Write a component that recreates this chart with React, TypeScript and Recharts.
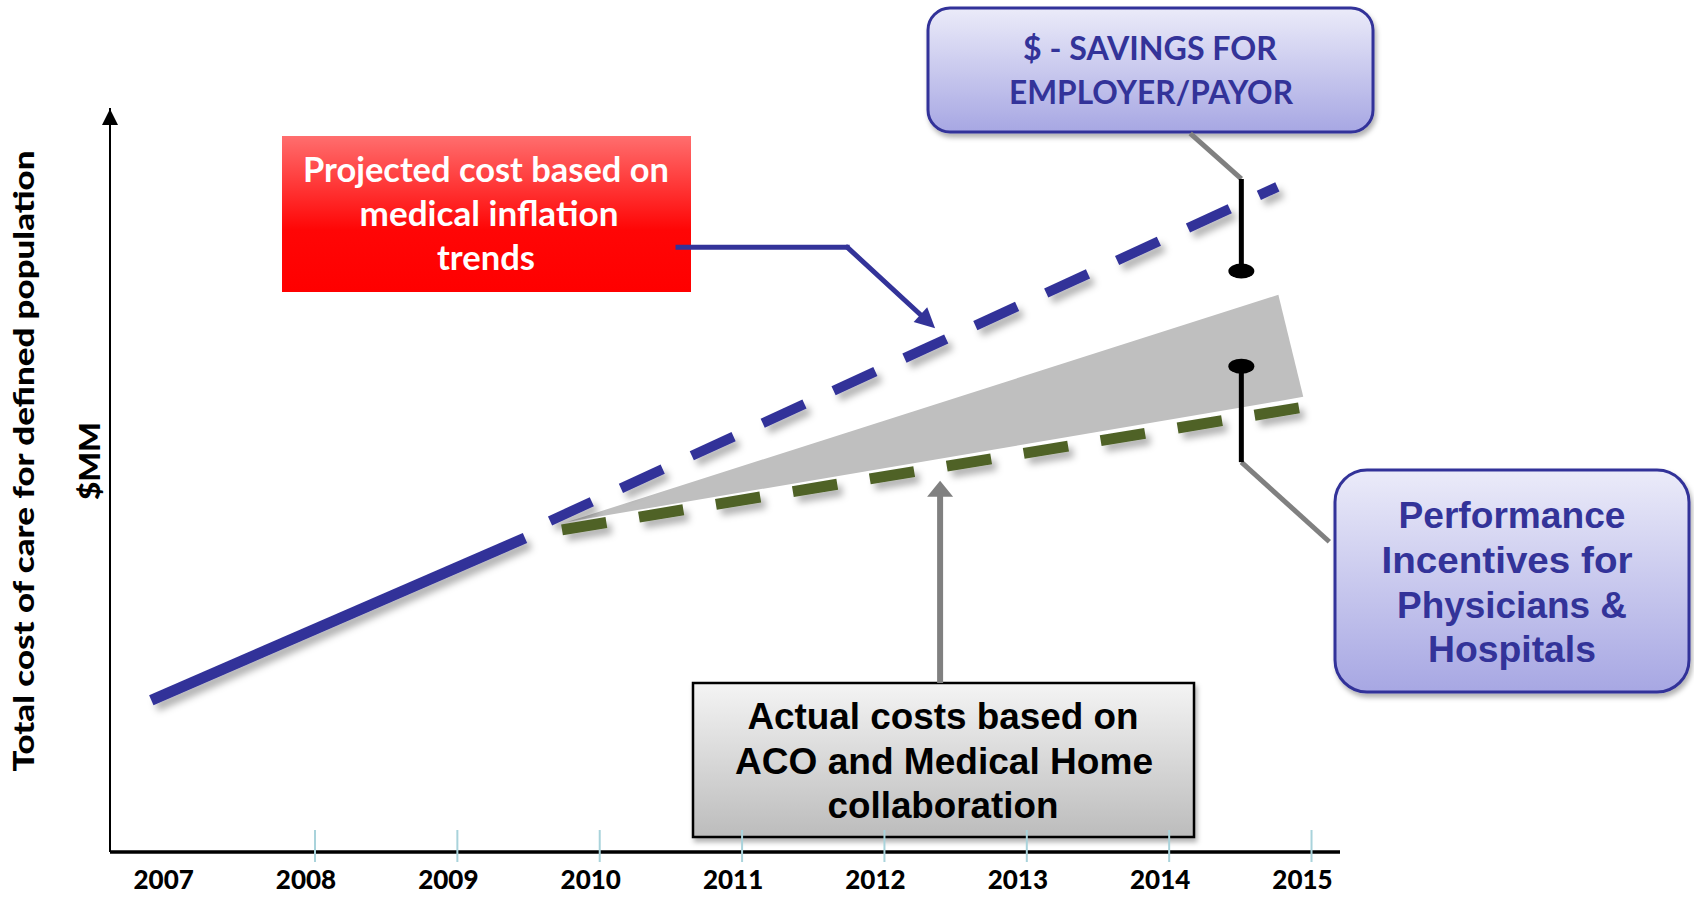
import React from 'react';
import { ComposedChart, Line, Area, XAxis, YAxis, ReferenceLine, ReferenceDot } from 'recharts';

// ---- data (years on x, cost in $MM index on y) ----
const years = [2007, 2008, 2009, 2010, 2011, 2012, 2013, 2014, 2015];
const historicYears = [2006.85, 2009.475];
const historicCost = [20.4, 42.2];
const projectedYears = [2009.651, 2014.76];
const projectedCost = [44.5, 89.4];
const actualYears = [2009.735, 2014.977];
const actualCost = [43.3, 59.9];
const gapYears = [2009.77, 2014.767, 2014.942];
const gapLow = [44.35, 60.6, 61.2];
const gapHigh = [44.35, 74.9, 61.2];
const bracketYear = 2014.507;
const savingsRange = [90.46, 78.1];
const incentiveRange = [65.3, 52.4];

// callout connector anchors (data units)
const projectedCallout = [
  { x: 2010.55, y: 81.3 },
  { x: 2011.738, y: 81.3 },
  { x: 2012.356, y: 70.4 },
];
const actualCallout = [
  { x: 2012.391, y: 22.7 },
  { x: 2012.391, y: 49.9 },
];
const savingsCallout = [
  { x: 2014.148, y: 96.6 },
  { x: bracketYear, y: savingsRange[0] },
];
const incentiveCallout = [
  { x: bracketYear, y: incentiveRange[1] },
  { x: 2015.125, y: 41.7 },
];

const X_DOMAIN: [number, number] = [2006.56, 2015.2];
const Y_DOMAIN: [number, number] = [0, 100];

const historicData = historicYears.map((x, i) => ({ x, v: historicCost[i] }));
const projectedData = projectedYears.map((x, i) => ({ x, v: projectedCost[i] }));
const actualData = actualYears.map((x, i) => ({ x, v: actualCost[i] }));
const gapData = gapYears.map((x, i) => ({ x, r: [gapLow[i], gapHigh[i]] }));

const BLUE = '#333399';
const GREEN = '#4F6228';
const CALIBRI = 'Lato, "Open Sans", sans-serif';
const ARIAL = '"Liberation Sans", Arial, sans-serif';

const XTick = (props: any) => {
  const { x, y, payload } = props;
  const v = payload.value;
  return (
    <g>
      {v !== 2007 && (
        <line x1={x} x2={x} y1={y - 22} y2={y + 10} stroke="#A9D3DB" strokeWidth={2} />
      )}
      <text
        x={x - 9}
        y={y + 37}
        textAnchor="middle"
        fontFamily={CALIBRI}
        fontWeight={900}
        fontSize={26}
        fill="#000"
      >
        {v}
      </text>
    </g>
  );
};

const segShape = (color: string, width: number, cap: any = 'butt') => (p: any) => (
  <line x1={p.x1} y1={p.y1} x2={p.x2} y2={p.y2} stroke={color} strokeWidth={width} strokeLinecap={cap} />
);

const arrowShape = (color: string, width: number, headLen: number, headW: number, cap: any = 'butt') => (p: any) => {
  const { x1, y1, x2, y2 } = p;
  const dx = x2 - x1;
  const dy = y2 - y1;
  const L = Math.hypot(dx, dy) || 1;
  const ux = dx / L;
  const uy = dy / L;
  const bx = x2 - ux * headLen;
  const by = y2 - uy * headLen;
  const px = -uy;
  const py = ux;
  return (
    <g>
      <line x1={x1} y1={y1} x2={bx + ux * 2} y2={by + uy * 2} stroke={color} strokeWidth={width} strokeLinecap={cap} />
      <polygon
        points={`${x2},${y2} ${bx + (px * headW) / 2},${by + (py * headW) / 2} ${bx - (px * headW) / 2},${by - (py * headW) / 2}`}
        fill={color}
      />
    </g>
  );
};

const ellipseShape = (p: any) => <ellipse cx={p.cx} cy={p.cy} rx={13} ry={7.5} fill="#000" />;
const yArrowShape = (p: any) => (
  <polygon points={`${p.cx},${p.cy + 1} ${p.cx - 8},${p.cy + 17} ${p.cx + 8},${p.cy + 17}`} fill="#000" />
);

const CText = (props: any) => {
  const { x, y, w, children, ...rest } = props;
  return (
    <text x={x} y={y} textAnchor="middle" textLength={w} lengthAdjust="spacingAndGlyphs" {...rest}>
      {children}
    </text>
  );
};

const Background = () => (
  <svg width={1694} height={897} style={{ position: 'absolute', left: 0, top: 0 }}>
    <defs>
      <linearGradient id="redGrad" x1="0" y1="0" x2="0" y2="1">
        <stop offset="0" stopColor="#FF6E6E" />
        <stop offset="0.6" stopColor="#FF0606" />
        <stop offset="1" stopColor="#FF0000" />
      </linearGradient>
      <linearGradient id="lavGrad" x1="0" y1="0" x2="0" y2="1">
        <stop offset="0" stopColor="#EBEBF9" />
        <stop offset="1" stopColor="#A7A7E3" />
      </linearGradient>
      <linearGradient id="grayGrad" x1="0" y1="0" x2="0" y2="1">
        <stop offset="0" stopColor="#F4F4F4" />
        <stop offset="1" stopColor="#BCBCBC" />
      </linearGradient>
      <filter id="boxShadow" x="-10%" y="-10%" width="130%" height="140%">
        <feDropShadow dx="2" dy="4" stdDeviation="2.5" floodColor="#000" floodOpacity="0.3" />
      </filter>
    </defs>

    {/* axis titles */}
    <g transform="translate(34,461) rotate(-90)">
      <CText x={0} y={0} w={621} fontFamily={CALIBRI} fontWeight={900} fontSize={28} fill="#000">
        Total cost of care for defined population
      </CText>
    </g>
    <g transform="translate(100,461) rotate(-90)">
      <CText x={0} y={0} w={78} fontFamily={CALIBRI} fontWeight={900} fontSize={28} fill="#000">
        $MM
      </CText>
    </g>

    {/* projected cost box */}
    <rect x={282} y={136} width={409} height={156} fill="url(#redGrad)" />
    <g fontFamily={CALIBRI} fontWeight={700} fontSize={34} fill="#FFFFFF">
      <CText x={486} y={182} w={366}>Projected cost based on</CText>
      <CText x={489} y={226} w={259}>medical inflation</CText>
      <CText x={486} y={270} w={98}>trends</CText>
    </g>

    {/* savings box */}
    <rect x={928} y={8} width={445} height={124} rx={22} ry={22} fill="url(#lavGrad)" stroke={BLUE} strokeWidth={3} filter="url(#boxShadow)" />
    <g fontFamily={CALIBRI} fontWeight={700} fontSize={32} fill={BLUE}>
      <CText x={1150} y={60} w={254}>$ - SAVINGS FOR</CText>
      <CText x={1151} y={104} w={284}>EMPLOYER/PAYOR</CText>
    </g>

    {/* performance incentives box */}
    <rect x={1335} y={470} width={354} height={222} rx={32} ry={32} fill="url(#lavGrad)" stroke={BLUE} strokeWidth={3} filter="url(#boxShadow)" />
    <g fontFamily={ARIAL} fontWeight={700} fontSize={36} fill={BLUE}>
      <CText x={1512} y={528} w={227}>Performance</CText>
      <CText x={1507} y={573} w={251}>Incentives for</CText>
      <CText x={1512} y={618} w={230}>Physicians &amp;</CText>
      <CText x={1512} y={662} w={168}>Hospitals</CText>
    </g>

    {/* actual costs box */}
    <rect x={693} y={683} width={501} height={154} fill="url(#grayGrad)" stroke="#000" strokeWidth={2.5} filter="url(#boxShadow)" />
    <g fontFamily={ARIAL} fontWeight={700} fontSize={36} fill="#000">
      <CText x={943} y={729} w={391}>Actual costs based on</CText>
      <CText x={944} y={774} w={418}>ACO and Medical Home</CText>
      <CText x={943} y={818} w={231}>collaboration</CText>
    </g>
  </svg>
);

export default function App() {
  return (
    <div style={{ position: 'absolute', left: 0, top: 0, width: 1694, height: 897, background: '#fff', overflow: 'hidden' }}>
      <Background />
      <div style={{ position: 'absolute', left: 0, top: 0 }}>
        <ComposedChart
          width={1694}
          height={897}
          margin={{ top: 108, right: 354, bottom: 15, left: 110 }}
        >
          <defs>
            <filter id="lineShadow" filterUnits="userSpaceOnUse" x="0" y="0" width="1694" height="897">
              <feDropShadow dx="5" dy="6" stdDeviation="3.5" floodColor="#000" floodOpacity="0.3" />
            </filter>
          </defs>
          <XAxis
            dataKey="x"
            type="number"
            domain={X_DOMAIN}
            allowDataOverflow
            ticks={years}
            interval={0}
            tick={<XTick />}
            tickLine={false}
            tickSize={0}
            tickMargin={0}
            height={30}
            axisLine={{ stroke: '#000', strokeWidth: 3.5 }}
          />
          <YAxis type="number" domain={Y_DOMAIN} allowDataOverflow hide width={0} />

          {/* y-axis line */}
          <ReferenceLine x={X_DOMAIN[0]} ifOverflow="visible" stroke="#000" strokeWidth={2} />

          <Area
            data={gapData}
            dataKey="r"
            type="linear"
            fill="#BFBFBF"
            fillOpacity={1}
            stroke="none"
            dot={false}
            activeDot={false}
            isAnimationActive={false}
          />
          <Line
            data={historicData}
            dataKey="v"
            type="linear"
            stroke={BLUE}
            strokeWidth={11}
            dot={false}
            activeDot={false}
            isAnimationActive={false}
            filter="url(#lineShadow)"
          />
          <Line
            data={projectedData}
            dataKey="v"
            type="linear"
            stroke={BLUE}
            strokeWidth={10}
            strokeDasharray="46 32"
            dot={false}
            activeDot={false}
            isAnimationActive={false}
            filter="url(#lineShadow)"
          />
          <Line
            data={actualData}
            dataKey="v"
            type="linear"
            stroke={GREEN}
            strokeWidth={11}
            strokeDasharray="45 33"
            dot={false}
            activeDot={false}
            isAnimationActive={false}
            filter="url(#lineShadow)"
          />

          {/* callout connectors */}
          <ReferenceLine
            segment={[projectedCallout[0], projectedCallout[1]]}
            ifOverflow="visible"
            shape={segShape(BLUE, 5, 'square')}
          />
          <ReferenceLine
            segment={[projectedCallout[1], projectedCallout[2]]}
            ifOverflow="visible"
            shape={arrowShape(BLUE, 5, 20, 20, 'round')}
          />
          <ReferenceLine
            segment={[actualCallout[0], actualCallout[1]]}
            ifOverflow="visible"
            shape={arrowShape('#808080', 6, 16, 26)}
          />
          <ReferenceLine
            segment={[savingsCallout[0], savingsCallout[1]]}
            ifOverflow="visible"
            shape={segShape('#808080', 5)}
          />
          <ReferenceLine
            segment={[incentiveCallout[0], incentiveCallout[1]]}
            ifOverflow="visible"
            shape={segShape('#808080', 5)}
          />

          {/* brackets */}
          <ReferenceLine
            segment={[
              { x: bracketYear, y: savingsRange[0] },
              { x: bracketYear, y: savingsRange[1] },
            ]}
            ifOverflow="visible"
            shape={segShape('#000', 5)}
          />
          <ReferenceDot x={bracketYear} y={savingsRange[1]} ifOverflow="visible" shape={ellipseShape} />
          <ReferenceLine
            segment={[
              { x: bracketYear, y: incentiveRange[0] },
              { x: bracketYear, y: incentiveRange[1] },
            ]}
            ifOverflow="visible"
            shape={segShape('#000', 5)}
          />
          <ReferenceDot x={bracketYear} y={incentiveRange[0]} ifOverflow="visible" shape={ellipseShape} />

          {/* y-axis arrow head */}
          <ReferenceDot x={X_DOMAIN[0]} y={Y_DOMAIN[1]} ifOverflow="visible" shape={yArrowShape} />
        </ComposedChart>
      </div>
    </div>
  );
}
